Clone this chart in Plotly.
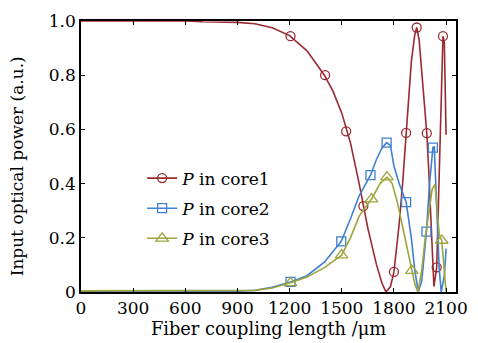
import plotly.graph_objects as go

# ---- data ----
x_core1 = [0, 300, 600, 700, 800, 900, 1000, 1100, 1200, 1300, 1400, 1450, 1500, 1550, 1600, 1650,
           1700, 1730, 1754, 1780, 1800, 1830, 1850, 1870, 1900, 1920, 1931, 1945, 1960, 1975,
           1989, 2000, 2015, 2030, 2046, 2060, 2075, 2082, 2090, 2100]
y_core1 = [1.0, 1.0, 1.0, 0.997, 0.996, 0.995, 0.99, 0.975, 0.946, 0.89, 0.80, 0.74, 0.66, 0.55, 0.40, 0.235,
           0.10, 0.035, 0.0, 0.02, 0.074, 0.25, 0.40, 0.587, 0.85, 0.95, 0.976, 0.93, 0.82, 0.70,
           0.586, 0.45, 0.22, 0.02, 0.091, 0.45, 0.85, 0.944, 0.92, 0.58]

x_core2 = [0, 300, 600, 900, 1000, 1100, 1205, 1300, 1400, 1497, 1550, 1600, 1665, 1700, 1730, 1758,
           1780, 1800, 1830, 1870, 1900, 1920, 1940, 1960, 1987, 2005, 2024, 2032, 2045, 2060, 2072,
           2090, 2100]
y_core2 = [0.003, 0.003, 0.003, 0.003, 0.006, 0.017, 0.037, 0.06, 0.11, 0.187, 0.27, 0.355, 0.431, 0.49, 0.53, 0.551,
           0.54, 0.465, 0.40, 0.332, 0.20, 0.08, 0.0, 0.04, 0.223, 0.40, 0.533, 0.535, 0.33, 0.09, 0.0,
           0.06, 0.16]

x_core3 = [0, 300, 600, 900, 1000, 1100, 1205, 1300, 1400, 1499, 1550, 1600, 1671, 1720, 1760, 1790,
           1820, 1850, 1880, 1903, 1920, 1938, 1960, 1980, 2000, 2020, 2036, 2050, 2061, 2075, 2090, 2100]
y_core3 = [0.004, 0.004, 0.004, 0.004, 0.006, 0.015, 0.034, 0.055, 0.09, 0.136, 0.20, 0.28, 0.343, 0.40, 0.424, 0.40,
           0.33, 0.24, 0.15, 0.079, 0.03, 0.0, 0.08, 0.20, 0.30, 0.38, 0.397, 0.30, 0.21, 0.19, 0.06, 0.0]

mx_core1 = [1205, 1404, 1525, 1624, 1800, 1870, 1931, 1989, 2046, 2082]
my_core1 = [0.944, 0.80, 0.593, 0.317, 0.074, 0.587, 0.976, 0.586, 0.091, 0.944]
mx_core2 = [1205, 1497, 1665, 1758, 1870, 1987, 2024]
my_core2 = [0.037, 0.187, 0.431, 0.551, 0.332, 0.223, 0.533]
mx_core3 = [1205, 1499, 1671, 1760, 1903, 2075]
my_core3 = [0.034, 0.136, 0.343, 0.424, 0.079, 0.19]

names = ["<i>P</i> in core1", "<i>P</i> in core2", "<i>P</i> in core3"]
colors = ["#9a2a30", "#3f80d0", "#9ea43e"]
symbols = ["circle-open", "square-open", "triangle-up-open"]
msizes = [9, 9, 11]

x_ticks = [0, 300, 600, 900, 1200, 1500, 1800, 2100]
y_ticks = [0, 0.2, 0.4, 0.6, 0.8, 1.0]
y_ticktext = ["0", "0.2", "0.4", "0.6", "0.8", "1.0"]

FONT = "DejaVu Serif"
FS = 17
FS_TITLE = 17.8

series = [
    (x_core1, y_core1, mx_core1, my_core1),
    (x_core2, y_core2, mx_core2, my_core2),
    (x_core3, y_core3, mx_core3, my_core3),
]

fig = go.Figure()
for i, (xs, ys, mxs, mys) in enumerate(series):
    fig.add_trace(go.Scatter(x=xs, y=ys, mode="lines", line=dict(color=colors[i], width=1.6),
                             showlegend=False, hoverinfo="skip"))
    fig.add_trace(go.Scatter(x=mxs, y=mys, mode="markers",
                             marker=dict(symbol=symbols[i], size=msizes[i], color=colors[i],
                                         line=dict(width=1.3, color=colors[i])),
                             showlegend=False))
    # legend entry
    fig.add_trace(go.Scatter(x=[None], y=[None], mode="lines+markers", name=names[i],
                             legendgroup=f"g{i}",
                             line=dict(color=colors[i], width=1.6),
                             marker=dict(symbol=symbols[i], size=msizes[i], color=colors[i],
                                         line=dict(width=1.3, color=colors[i]))))

axis_common = dict(showline=True, linecolor="black", linewidth=1.6, mirror="ticks",
                   ticks="inside", ticklen=4, tickwidth=1.3, tickcolor="black",
                   showgrid=False, zeroline=False,
                   tickfont=dict(family=FONT, size=FS, color="black"))

fig.update_xaxes(range=[0, 2157], tickvals=x_ticks,
                 title=dict(text="Fiber coupling length /μm", font=dict(family=FONT, size=FS_TITLE, color="black"),
                            standoff=1),
                 **axis_common)
fig.update_yaxes(range=[0, 1.0], tickvals=y_ticks, ticktext=y_ticktext, **axis_common)

fig.add_annotation(text="Input optical power (a.u.)", textangle=-90, xref="paper", yref="paper",
                   x=-0.172, y=0.462, xanchor="center", yanchor="middle", showarrow=False,
                   font=dict(family=FONT, size=FS, color="black"))

fig.update_layout(
    width=478, height=343,
    margin=dict(l=81, r=11, t=14, b=51),
    paper_bgcolor="white", plot_bgcolor="white",
    font=dict(family=FONT, size=FS, color="black"),
    legend=dict(x=0.163, y=0.485, xanchor="left", yanchor="top", bgcolor="rgba(0,0,0,0)",
                font=dict(family=FONT, size=FS, color="black"), tracegroupgap=5),
)

fig.write_html("out.html", config={"displayModeBar": False},
               post_script="document.body.style.margin='0';")
